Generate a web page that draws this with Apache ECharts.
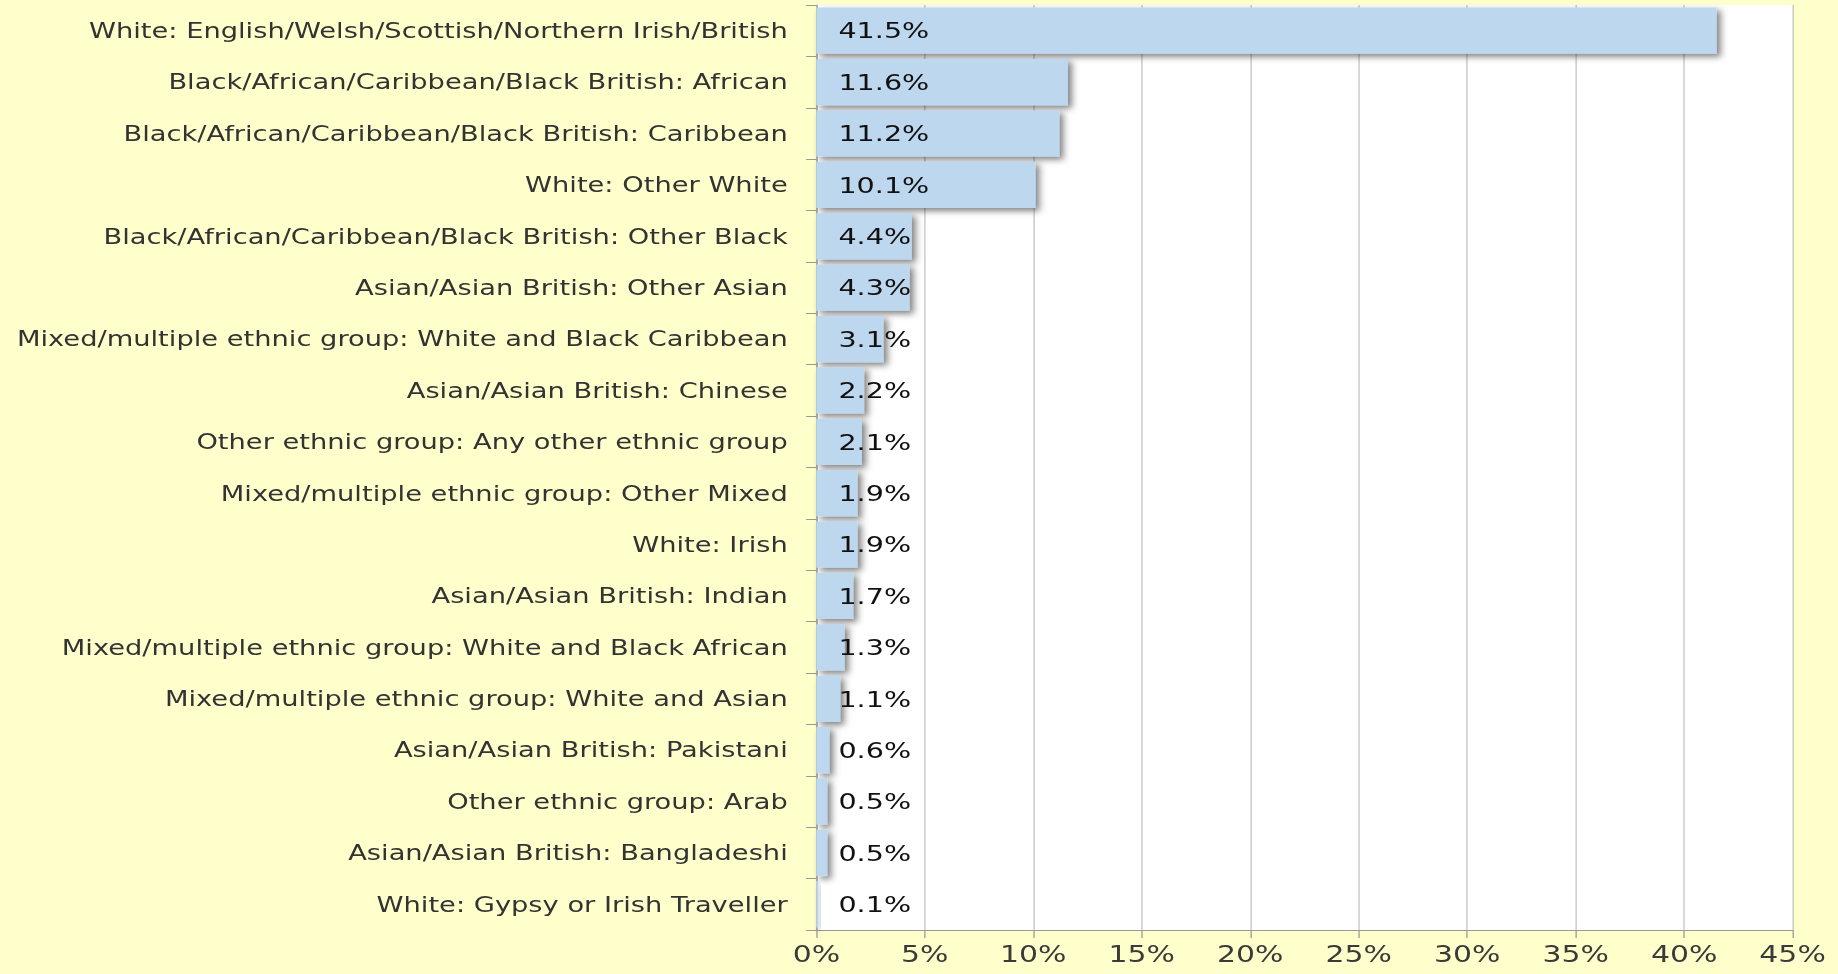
<!DOCTYPE html>
<html>
<head>
    <meta charset="utf-8"/>
    <title>Ethnic group</title>
    <script src="https://cdn.jsdelivr.net/npm/echarts/dist/echarts.min.js"></script>
    <style>
        html, body { margin: 0; padding: 0; background: #FFFFCC; overflow: hidden; }
        /* the source image is stretched sideways, so the chart is drawn narrow and scaled out */
        #main { width: 1414px; height: 974px; transform: scaleX(1.2999); transform-origin: 0 0; }
    </style>
</head>
<body>
<div id="main"></div>
<script type="text/javascript">
    var categories = [
        'White: English/Welsh/Scottish/Northern Irish/British',
        'Black/African/Caribbean/Black British: African',
        'Black/African/Caribbean/Black British: Caribbean',
        'White: Other White',
        'Black/African/Caribbean/Black British: Other Black',
        'Asian/Asian British: Other Asian',
        'Mixed/multiple ethnic group: White and Black Caribbean',
        'Asian/Asian British: Chinese',
        'Other ethnic group: Any other ethnic group',
        'Mixed/multiple ethnic group: Other Mixed',
        'White: Irish',
        'Asian/Asian British: Indian',
        'Mixed/multiple ethnic group: White and Black African',
        'Mixed/multiple ethnic group: White and Asian',
        'Asian/Asian British: Pakistani',
        'Other ethnic group: Arab',
        'Asian/Asian British: Bangladeshi',
        'White: Gypsy or Irish Traveller'
    ];
    var shares = [41.5, 11.6, 11.2, 10.1, 4.4, 4.3, 3.1, 2.2, 2.1, 1.9, 1.9, 1.7, 1.3, 1.1, 0.6, 0.5, 0.5, 0.1];
    var tickValues = [0, 5, 10, 15, 20, 25, 30, 35, 40, 45];

    var myChart = echarts.init(document.getElementById('main'), null, {renderer: 'svg'});

    var option = {
        backgroundColor: '#FFFFCC',
        animation: false,
        grid: {
            left: 628,
            right: 35,
            top: 5,
            bottom: 44,
            show: true,
            backgroundColor: '#ffffff',
            borderWidth: 0,
            containLabel: false,
            outerBoundsMode: 'none'
        },
        xAxis: {
            type: 'value',
            min: tickValues[0],
            max: tickValues[tickValues.length - 1],
            interval: 5,
            axisLine: { show: true, lineStyle: { color: '#9a9a9a', width: 1 } },
            axisTick: { show: true, length: 8, lineStyle: { color: '#9a9a9a' } },
            axisLabel: {
                margin: 12,
                fontFamily: 'DejaVu Sans',
                fontSize: 23,
                color: '#3a3a3a',
                formatter: '{value}%'
            },
            splitLine: { show: true, lineStyle: { color: '#c4c4c4', width: 1 } }
        },
        yAxis: {
            type: 'category',
            inverse: true,
            data: categories,
            axisLine: { show: true, lineStyle: { color: '#9a9a9a', width: 1 } },
            axisTick: { show: true, length: 8, lineStyle: { color: '#9a9a9a' } },
            axisLabel: {
                margin: 22,
                fontFamily: 'DejaVu Sans',
                fontSize: 21,
                color: '#333333'
            }
        },
        series: [
            {
                type: 'bar',
                data: shares,
                barCategoryGap: '10%',
                itemStyle: {
                    color: '#BDD7EE',
                    shadowColor: 'rgba(0,0,0,0.5)',
                    shadowBlur: 6,
                    shadowOffsetX: 3,
                    shadowOffsetY: 3
                },
                label: {
                    show: true,
                    position: 'insideLeft',
                    distance: 17,
                    fontFamily: 'DejaVu Sans',
                    fontSize: 22,
                    color: '#111111',
                    formatter: function (p) { return p.value.toFixed(1) + '%'; }
                }
            }
        ]
    };

    myChart.setOption(option);
</script>
</body>
</html>
